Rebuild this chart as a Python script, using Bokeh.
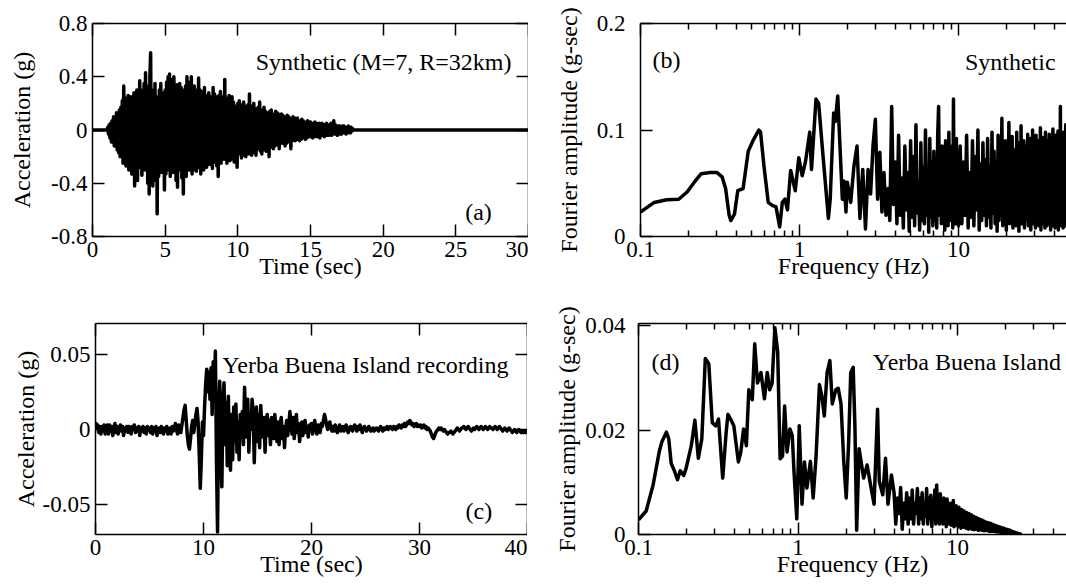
import numpy as np
from bokeh.plotting import figure
from bokeh.layouts import row, column
from bokeh.models import LinearAxis, LogAxis, FixedTicker, Label, Range1d
from bokeh.embed import file_html
from bokeh.resources import INLINE

FONT = "Liberation Serif"

# ---------------- (a) synthetic acceleration (g) ----------------
a_lead_t = [0.0]
a_lead_v = [0.0]
a_t0 = 1.0
a_dt = 0.05
a_vals = [
    0.00, 0.02, -0.03, 0.04, -0.06, 0.05, -0.09, 0.07, -0.05, 0.10, -0.12, 0.08, -0.10, 0.13, -0.15, 0.12, -0.17, 0.15, -0.20, 0.17,
    -0.14, 0.22, -0.25, 0.33, -0.18, 0.20, -0.27, 0.24, -0.15, 0.26, -0.30, 0.18, -0.22, 0.25, -0.33, 0.21, -0.26, 0.28, -0.42, 0.22,
    -0.25, 0.30, -0.38, 0.24, -0.28, 0.37, -0.22, 0.27, -0.34, 0.30, -0.26, 0.35, -0.30, 0.43, -0.28, 0.33, -0.40, 0.31, -0.48, 0.40,
    0.58, -0.35, 0.30, -0.42, 0.28, -0.30, 0.35, -0.38, 0.25, -0.63, 0.22, -0.35, 0.30, -0.28, 0.35, -0.32, 0.26, -0.30, 0.28, -0.45,
    0.30, -0.33, 0.36, -0.28, 0.40, -0.30, 0.42, -0.35, 0.33, -0.27, 0.38, -0.32, 0.40, -0.25, 0.30, -0.38, 0.34, -0.43, 0.28, -0.30,
    0.35, -0.30, 0.32, -0.36, 0.25, -0.48, 0.30, -0.28, 0.33, -0.35, 0.40, -0.25, 0.31, -0.30, 0.36, -0.27, 0.40, -0.33, 0.28, -0.30,
    0.33, -0.27, 0.30, -0.31, 0.26, -0.25, 0.39, -0.28, 0.30, -0.33, 0.27, -0.24, 0.29, -0.30, 0.32, -0.22, 0.26, -0.28, 0.24, -0.26,
    0.28, -0.23, 0.25, -0.26, 0.22, -0.29, 0.32, -0.24, 0.27, -0.21, 0.25, -0.27, 0.23, -0.35, 0.26, -0.22, 0.29, -0.25, 0.24, -0.20,
    0.25, -0.22, 0.38, -0.20, 0.22, -0.25, 0.24, -0.18, 0.26, -0.23, 0.20, -0.22, 0.25, -0.19, 0.21, -0.24, 0.18, -0.20, 0.17, -0.28,
    0.20, -0.18, 0.22, -0.17, 0.19, -0.21, 0.16, -0.19, 0.21, -0.15, 0.18, -0.20, 0.17, -0.16, 0.19, -0.18, 0.27, -0.17, 0.15, -0.19,
    0.18, -0.15, 0.20, -0.17, 0.14, -0.19, 0.16, -0.14, 0.17, -0.13, 0.21, -0.16, 0.15, -0.18, 0.13, -0.15, 0.17, -0.12, 0.14, -0.16,
    0.13, -0.15, 0.12, -0.20, 0.14, -0.11, 0.15, -0.13, 0.12, -0.14, 0.10, -0.12, 0.14, -0.11, 0.13, -0.10, 0.12, -0.14, 0.11, -0.10,
    0.12, -0.10, 0.11, -0.09, 0.10, -0.12, 0.09, -0.10, 0.11, -0.08, 0.10, -0.09, 0.08, -0.14, 0.09, -0.08, 0.10, -0.07, 0.09, -0.08,
    0.08, -0.07, 0.09, -0.06, 0.07, -0.08, 0.06, -0.07, 0.08, -0.06, 0.07, -0.05, 0.06, -0.07, 0.05, -0.06, 0.07, -0.05, 0.06, -0.05,
    0.06, -0.05, 0.05, -0.06, 0.04, -0.05, 0.06, -0.04, 0.05, -0.05, 0.04, -0.04, 0.05, -0.06, 0.04, -0.03, 0.05, -0.04, 0.04, -0.05,
    0.04, -0.03, 0.05, -0.04, 0.03, -0.04, 0.04, -0.03, 0.05, -0.04, 0.03, -0.03, 0.07, -0.03, 0.04, -0.03, 0.03, -0.04, 0.03, -0.02,
    0.03, -0.03, 0.02, -0.03, 0.03, -0.02, 0.03, -0.02, 0.02, -0.03, 0.02, -0.02, 0.03, -0.02, 0.02, -0.02, 0.02, -0.01, 0.01, 0.00,
]
a_tail_t = [18.0, 30.0]
a_tail_v = [0.0, 0.0]

# ---------------- (c) Yerba Buena Island acceleration (g) ----------------
c_t0 = 0.0
c_dt = 0.1
c_vals = [
    0.005, 0.001, 0.003, -0.002, 0.002, -0.003, 0.002, -0.001, 0.003, -0.003,
    0.001, 0.003, -0.003, 0.003, -0.001, 0.002, -0.004, 0.001, 0.004, -0.002,
    0.002, -0.003, 0.001, 0.003, -0.001, 0.002, -0.004, 0.001, -0.001, 0.002,
    -0.002, 0.002, 0.001, -0.003, 0.002, 0.000, 0.003, -0.002, 0.001, -0.001,
    0.002, -0.004, 0.001, -0.001, 0.002, -0.002, 0.001, -0.003, 0.002, 0.000,
    0.001, -0.002, 0.002, -0.003, 0.001, -0.001, 0.002, -0.004, 0.000, 0.001,
    -0.002, 0.002, 0.000, -0.003, 0.001, -0.001, 0.002, -0.003, 0.000, 0.001,
    -0.003, 0.002, -0.001, 0.001, 0.004, 0.000, -0.003, 0.003, 0.001, -0.002,
    0.003, 0.008, 0.013, 0.016, 0.006, -0.004, -0.010, -0.013, -0.006, 0.002,
    0.006, -0.002, 0.004, 0.010, 0.014, 0.005, -0.015, -0.039, -0.020, 0.005,
    -0.004, 0.015, 0.030, 0.040, 0.025, 0.038, 0.020, 0.041, 0.010, 0.045,
    0.030, 0.052, -0.020, -0.068, 0.010, 0.032, -0.015, -0.038, 0.020, 0.031,
    -0.010, 0.018, -0.024, 0.022, -0.012, -0.027, 0.010, -0.020, 0.015, -0.008,
    0.017, -0.015, 0.005, -0.020, 0.010, -0.005, 0.012, -0.010, 0.028, 0.010,
    -0.005, 0.020, -0.015, 0.008, 0.000, 0.020, 0.012, -0.022, 0.005, 0.015,
    -0.008, 0.010, -0.012, 0.016, 0.002, -0.005, 0.008, -0.015, 0.005, 0.010,
    -0.004, 0.006, -0.010, 0.008, 0.003, -0.006, 0.010, 0.002, -0.008, 0.005,
    -0.010, 0.004, 0.008, -0.006, 0.002, -0.012, 0.000, 0.006, -0.004, 0.003,
    0.012, 0.005, -0.003, 0.008, -0.006, 0.002, 0.010, -0.002, 0.004, -0.008,
    0.000, 0.005, -0.004, 0.003, 0.006, -0.002, 0.002, -0.005, 0.003, 0.001,
    0.004, -0.003, 0.002, 0.006, 0.000, -0.003, 0.003, 0.001, -0.002, 0.004,
    0.002, 0.006, 0.010, 0.007, 0.003, 0.000, 0.002, 0.005, 0.001, -0.001,
    0.002, -0.001, 0.003, 0.000, -0.002, 0.001, 0.003, -0.001, 0.001, 0.002,
    -0.001, 0.001, 0.003, 0.000, -0.002, 0.001, 0.002, 0.000, -0.001, 0.002,
    0.003, 0.001, -0.001, 0.002, 0.000, 0.003, 0.001, -0.002, 0.000, 0.002,
    0.001, -0.001, 0.000, 0.002, 0.001, -0.001, 0.000, 0.001, -0.001, 0.000,
    0.001, 0.000, -0.001, 0.001, 0.002, 0.000, -0.001, 0.001, 0.000, 0.001,
    0.002, 0.000, 0.001, 0.002, 0.001, 0.000, 0.002, 0.001, 0.000, 0.002,
    0.001, 0.003, 0.002, 0.001, 0.003, 0.002, 0.004, 0.002, 0.003, 0.005,
    0.004, 0.006, 0.005, 0.003, 0.004, 0.002, 0.003, 0.004, 0.002, 0.003,
    0.002, 0.003, 0.001, 0.002, 0.003, 0.001, 0.002, 0.000, 0.001, 0.000,
    -0.001, -0.003, -0.005, -0.006, -0.004, -0.002, -0.001, 0.000, 0.001, 0.000,
    0.001, 0.000, -0.001, 0.000, -0.001, -0.002, -0.003, -0.002, -0.002, -0.001,
    -0.002, -0.003, -0.002, -0.001, 0.000, 0.001, 0.000, -0.001, 0.000, 0.001,
    0.001, 0.002, 0.001, 0.000, 0.001, 0.002, 0.001, 0.000, -0.001, 0.000,
    0.001, 0.000, 0.001, 0.002, 0.001, 0.000, 0.001, 0.002, 0.001, 0.000,
    0.001, 0.002, 0.001, 0.000, 0.001, 0.002, 0.001, 0.001, 0.000, 0.001,
    0.002, 0.001, 0.000, 0.001, 0.002, 0.001, 0.000, -0.001, 0.000, 0.001,
    0.000, -0.001, 0.000, 0.001, 0.000, -0.001, -0.002, -0.001, 0.000, -0.001,
    -0.002, -0.001, 0.000, -0.001, -0.002, -0.001, -0.002, -0.001, -0.002, -0.001,
    -0.001,
]

# ---------------- (b) synthetic Fourier amplitude (g-sec) ----------------
b_f_low = [0.100, 0.122, 0.146, 0.174, 0.197, 0.218, 0.241, 0.274, 0.303, 0.326,
           0.343, 0.361, 0.370, 0.390, 0.409, 0.442, 0.476, 0.514, 0.555, 0.569,
           0.598, 0.636, 0.677, 0.711, 0.751, 0.780, 0.810, 0.840, 0.880, 0.940,
           0.990, 1.040, 1.090, 1.160, 1.190, 1.270, 1.320, 1.400, 1.520, 1.560,
           1.640, 1.680, 1.740, 1.790, 1.860, 1.910, 1.960]
b_a_low = [0.023, 0.032, 0.0345, 0.035, 0.042, 0.051, 0.059, 0.060, 0.060, 0.056,
           0.045, 0.020, 0.015, 0.021, 0.043, 0.045, 0.080, 0.091, 0.100, 0.098,
           0.066, 0.032, 0.029, 0.028, 0.009, 0.032, 0.035, 0.025, 0.062, 0.043,
           0.074, 0.057, 0.070, 0.098, 0.063, 0.129, 0.125, 0.079, 0.017, 0.035,
           0.116, 0.108, 0.132, 0.091, 0.035, 0.052, 0.023]
b_mid_f0 = 2.0
b_mid_df = 0.1
b_mid = [
    0.051, 0.032, 0.066, 0.085, 0.017, 0.063, 0.007, 0.063, 0.040, 0.085,
    0.110, 0.035, 0.079, 0.023, 0.060, 0.020, 0.045, 0.015, 0.122, 0.030,
    0.070, 0.012, 0.095, 0.020, 0.055, 0.008, 0.085, 0.025, 0.060, 0.005,
    0.090, 0.018, 0.075, 0.010, 0.105, 0.022, 0.050, 0.006, 0.088, 0.015,
    0.065, 0.012, 0.100, 0.020, 0.058, 0.004, 0.092, 0.018, 0.070, 0.010,
    0.080, 0.015, 0.060, 0.008, 0.095, 0.122, 0.020, 0.070, 0.012, 0.085,
    0.018, 0.075, 0.006, 0.090, 0.022, 0.060, 0.010, 0.098, 0.015, 0.070,
    0.020, 0.085, 0.008, 0.129, 0.015, 0.078, 0.012, 0.092, 0.020, 0.065,
    0.010,
]
b_high_f0 = 10.25
b_high_df = 0.25
b_high = [
    0.085, 0.012, 0.070, 0.020, 0.095, 0.008, 0.060, 0.018, 0.090, 0.010, 0.075, 0.025, 0.100, 0.006, 0.068, 0.015, 0.088, 0.020, 0.072,
    0.010, 0.092, 0.018, 0.065, 0.008, 0.098, 0.022, 0.080, 0.012, 0.070, 0.005, 0.095, 0.015, 0.085, 0.020, 0.111, 0.010, 0.078, 0.018,
    0.090, 0.006, 0.080, 0.020, 0.107, 0.012, 0.075, 0.018, 0.094, 0.008, 0.082, 0.022, 0.065, 0.010, 0.098, 0.015, 0.088, 0.005, 0.076,
    0.018, 0.104, 0.012, 0.070, 0.020, 0.090, 0.008, 0.085, 0.015, 0.060, 0.022, 0.096, 0.010, 0.078, 0.018, 0.092, 0.006, 0.083, 0.016,
    0.100, 0.012, 0.072, 0.020, 0.088, 0.008, 0.095, 0.015, 0.068, 0.022, 0.090, 0.010, 0.080, 0.018, 0.102, 0.006, 0.075, 0.014, 0.093,
    0.012, 0.085, 0.020, 0.070, 0.008, 0.098, 0.016, 0.082, 0.010, 0.090, 0.022, 0.066, 0.012, 0.096, 0.018, 0.086, 0.006, 0.092, 0.015,
    0.078, 0.020, 0.101, 0.010, 0.084, 0.016, 0.070, 0.008, 0.095, 0.018, 0.088, 0.012, 0.075, 0.020, 0.099, 0.006, 0.082, 0.016, 0.090,
    0.010, 0.122, 0.018, 0.076, 0.012, 0.094, 0.020, 0.085, 0.008, 0.098, 0.015, 0.072, 0.022, 0.090, 0.010, 0.105, 0.016, 0.080, 0.012,
]

# ---------------- (d) Yerba Buena Island Fourier amplitude (g-sec) ----------------
d_f_low = [0.1000, 0.1117, 0.1235, 0.1352, 0.1400, 0.1495, 0.1548, 0.1603, 0.1669, 0.1755,
           0.1827, 0.1921, 0.1990, 0.2146, 0.2256, 0.2372, 0.2494, 0.2623, 0.2758, 0.2900,
           0.3049, 0.3174, 0.3372, 0.3545, 0.3636, 0.3823, 0.3960, 0.4227, 0.4378, 0.4557,
           0.4746, 0.4915, 0.5168, 0.5353, 0.5572, 0.5858, 0.6160, 0.6412, 0.6642, 0.6879,
           0.7161, 0.7455, 0.7722, 0.7998, 0.8241, 0.8536, 0.8887, 0.9204, 0.9438, 0.9826,
           1.0177, 1.0595, 1.0974, 1.1365, 1.1953, 1.2444, 1.2955, 1.3621, 1.4109, 1.4614,
           1.5212, 1.5835, 1.6402, 1.7246, 1.7864, 1.8598, 1.9360, 2.0052, 2.0770, 2.1404,
           2.2171, 2.2735, 2.3314, 2.4149, 2.4888, 2.5779, 2.7106, 2.8502, 2.9973, 3.1512,
           3.2314, 3.3969, 3.5360, 3.6628, 3.8514]
d_a_low = [0.0028, 0.0045, 0.0095, 0.0160, 0.0177, 0.0196, 0.0183, 0.0136, 0.0124, 0.0105,
           0.0122, 0.0113, 0.0127, 0.0171, 0.0219, 0.0146, 0.0183, 0.0337, 0.0327, 0.0214,
           0.0208, 0.0221, 0.0108, 0.0196, 0.0230, 0.0218, 0.0208, 0.0139, 0.0158, 0.0202,
           0.0170, 0.0277, 0.0258, 0.0365, 0.0290, 0.0310, 0.0260, 0.0310, 0.0277, 0.0290,
           0.0396, 0.0350, 0.0145, 0.0150, 0.0246, 0.0158, 0.0202, 0.0190, 0.0120, 0.0030,
           0.0208, 0.0058, 0.0139, 0.0089, 0.0140, 0.0070, 0.0146, 0.0287, 0.0265, 0.0227,
           0.0310, 0.0333, 0.0250, 0.0277, 0.0280, 0.0250, 0.0139, 0.0070, 0.0177, 0.0310,
           0.0320, 0.0208, 0.0008, 0.0164, 0.0139, 0.0108, 0.0133, 0.0095, 0.0058, 0.0240,
           0.0102, 0.0076, 0.0146, 0.0058, 0.0114]
d_high_f0 = 4.0
d_high_df = 0.1
d_high = [
    0.0080, 0.0020, 0.0070, 0.0040, 0.0090, 0.0010, 0.0060, 0.0030, 0.0080, 0.0020,
    0.0070, 0.0030, 0.0085, 0.0020, 0.0060, 0.0040, 0.0088, 0.0020, 0.0070, 0.0030,
    0.0080, 0.0020, 0.0060, 0.0035, 0.0088, 0.0020, 0.0070, 0.0030, 0.0075, 0.0015,
    0.0060, 0.0030, 0.0085, 0.0020, 0.0095, 0.0030, 0.0065, 0.0020, 0.0078, 0.0025,
    0.0060, 0.0020, 0.0070, 0.0030, 0.0055, 0.0015, 0.0068, 0.0025, 0.0050, 0.0020,
    0.0060, 0.0018, 0.0052, 0.0025, 0.0065, 0.0015, 0.0048, 0.0020, 0.0055, 0.0018,
    0.0045, 0.0015, 0.0052, 0.0020, 0.0042, 0.0012, 0.0048, 0.0018, 0.0040, 0.0014,
    0.0045, 0.0016, 0.0038, 0.0012, 0.0042, 0.0015, 0.0036, 0.0010, 0.0040, 0.0014,
    0.0034, 0.0012, 0.0038, 0.0010, 0.0032, 0.0013, 0.0035, 0.0009, 0.0030, 0.0012,
    0.0033, 0.0010, 0.0028, 0.0012, 0.0031, 0.0008, 0.0027, 0.0010, 0.0029, 0.0009,
    0.0026, 0.0009, 0.0028, 0.0008, 0.0024, 0.0010, 0.0026, 0.0007, 0.0023, 0.0009,
    0.0024, 0.0008, 0.0021, 0.0009, 0.0023, 0.0007, 0.0020, 0.0008, 0.0022, 0.0006,
    0.0019, 0.0007, 0.0021, 0.0006, 0.0018, 0.0008, 0.0019, 0.0006, 0.0017, 0.0007,
    0.0018, 0.0006, 0.0016, 0.0007, 0.0017, 0.0005, 0.0015, 0.0006, 0.0016, 0.0005,
    0.0014, 0.0006, 0.0015, 0.0005, 0.0013, 0.0006, 0.0014, 0.0004, 0.0012, 0.0005,
    0.0013, 0.0004, 0.0012, 0.0005, 0.0011, 0.0004, 0.0012, 0.0003, 0.0010, 0.0004,
    0.0010, 0.0003, 0.0009, 0.0004, 0.0010, 0.0003, 0.0008, 0.0003, 0.0009, 0.0002,
    0.0008, 0.0003, 0.0007, 0.0002, 0.0008, 0.0002, 0.0006, 0.0003, 0.0006, 0.0002,
    0.0006, 0.0002, 0.0005, 0.0002, 0.0005, 0.0001, 0.0004, 0.0002, 0.0004, 0.0001,
    0.0004, 0.0001, 0.0003, 0.0001, 0.0003, 0.0001, 0.0002, 0.0001, 0.0002, 0.0001,
    0.0002, 0.0001, 0.0001, 0.0001, 0.0001, 0.0000, 0.0001, 0.0000, 0.0001, 0.0000,
    0.0000,
]

# ---------------- ticks ----------------
a_xticks = [0, 5, 10, 15, 20, 25, 30]
a_xlabels = ["0", "5", "10", "15", "20", "25", "30"]
a_yticks = [-0.8, -0.4, 0, 0.4, 0.8]
a_ylabels = ["-0.8", "-0.4", "0", "0.4", "0.8"]
c_xticks = [0, 10, 20, 30, 40]
c_xlabels = ["0", "10", "20", "30", "40"]
c_yticks = [-0.05, 0, 0.05]
c_ylabels = ["-0.05", "0", "0.05"]
f_ticks = [0.1, 1, 10]
f_labels = ["0.1", "1", "10"]
f_minor = [0.2, 0.3, 0.4, 0.5, 0.6, 0.7, 0.8, 0.9, 2, 3, 4, 5, 6, 7, 8, 9, 20, 30, 40, 50]
b_yticks = [0, 0.1, 0.2]
b_ylabels = ["0", "0.1", "0.2"]
d_yticks = [0, 0.02, 0.04]
d_ylabels = ["0", "0.02", "0.04"]


def grid(start, step, n):
    return [round(start + i * step, 6) for i in range(n)]


def style(ax, ticks, labels, minor=(), show=True, standoff=5, lab_standoff=5):
    ax.ticker = FixedTicker(ticks=list(ticks), minor_ticks=list(minor))
    ax.axis_line_color = "black"
    ax.axis_line_width = 1.5
    ax.major_tick_line_color = "black"
    ax.major_tick_line_width = 1.5
    ax.major_tick_in = 12
    ax.major_tick_out = 0
    ax.minor_tick_line_color = "black"
    ax.minor_tick_line_width = 1.5
    ax.minor_tick_in = 6
    ax.minor_tick_out = 0
    if show:
        ax.major_label_overrides = {t: l for t, l in zip(ticks, labels)}
        ax.major_label_text_font = FONT
        ax.major_label_text_font_size = "23px"
        ax.major_label_text_color = "black"
        ax.major_label_standoff = standoff
    else:
        ax.major_label_text_font_size = "0px"
        ax.major_label_text_alpha = 0
        ax.major_label_standoff = 0
    ax.axis_label_text_font = FONT
    ax.axis_label_text_font_size = "24px"
    ax.axis_label_text_font_style = "normal"
    ax.axis_label_text_color = "black"
    ax.axis_label_standoff = lab_standoff


def make_fig(w, h, left, right, top, bottom, xr, yr, log=False):
    p = figure(width=w, height=h, x_range=Range1d(*xr), y_range=Range1d(*yr),
               x_axis_type="log" if log else "linear",
               output_backend="svg", toolbar_location=None,
               min_border_left=left, min_border_right=right,
               min_border_top=top, min_border_bottom=bottom)
    p.outline_line_color = None
    p.xgrid.visible = False
    p.ygrid.visible = False
    p.background_fill_color = "white"
    p.border_fill_color = "white"
    return p


def add_label(p, x, y, text, align):
    p.add_layout(Label(x=x, y=y, text=text, text_font=FONT, text_font_size="24px",
                       text_color="black", text_align=align, text_baseline="alphabetic"))


LW = 3.5

# ---- panel (a)
pa = make_fig(528, 292, 92, 0, 20, 56, (0, 30), (-0.8, 0.8))
ta = a_lead_t + grid(a_t0, a_dt, len(a_vals)) + a_tail_t
va = a_lead_v + a_vals + a_tail_v
pa.line(ta, va, line_color="black", line_width=LW, line_join="round")
style(pa.xaxis[0], a_xticks, a_xlabels, lab_standoff=-7)
style(pa.yaxis[0], a_yticks, a_ylabels, lab_standoff=13)
pa.xaxis[0].axis_label = "Time (sec)"
pa.yaxis[0].axis_label = "Acceleration (g)"
ax_top = LinearAxis()
style(ax_top, a_xticks, a_xlabels, show=False)
pa.add_layout(ax_top, "above")
ax_right = LinearAxis()
style(ax_right, a_yticks, a_ylabels, show=False)
pa.add_layout(ax_right, "right")
add_label(pa, 28.83, 0.511, "Synthetic (M=7, R=32km)", "right")
add_label(pa, 26.56, -0.615, "(a)", "center")

# ---- panel (b)
pb = make_fig(538, 292, 112, 0, 23, 54, (0.1, 47.8), (0, 0.2), log=True)
fb = b_f_low + grid(b_mid_f0, b_mid_df, len(b_mid)) + grid(b_high_f0, b_high_df, len(b_high))
ab = b_a_low + b_mid + b_high
pb.line(fb, ab, line_color="black", line_width=LW, line_join="round")
style(pb.xaxis[0], f_ticks, f_labels, f_minor, lab_standoff=-7)
style(pb.yaxis[0], b_yticks, b_ylabels, standoff=15, lab_standoff=12)
pb.xaxis[0].axis_label = "Frequency (Hz)"
pb.yaxis[0].axis_label = "Fourier amplitude (g-sec)"
bx_top = LogAxis()
style(bx_top, f_ticks, f_labels, f_minor, show=False)
pb.add_layout(bx_top, "above")
add_label(pb, 0.119, 0.1656, "(b)", "left")
add_label(pb, 40.8, 0.164, "Synthetic", "right")

# ---- panel (c)
pc = make_fig(527, 296, 95, 0, 28, 54, (0, 40), (-0.0696, 0.0703))
tc = grid(c_t0, c_dt, len(c_vals))
pc.line(tc, c_vals, line_color="black", line_width=LW, line_join="round")
style(pc.xaxis[0], c_xticks, c_xlabels, lab_standoff=-7)
style(pc.yaxis[0], c_yticks, c_ylabels, lab_standoff=1)
pc.xaxis[0].axis_label = "Time (sec)"
pc.yaxis[0].axis_label = "Acceleration (g)"
cx_top = LinearAxis()
style(cx_top, c_xticks, c_xlabels, show=False)
pc.add_layout(cx_top, "above")
cy_right = LinearAxis()
style(cy_right, c_yticks, c_ylabels, show=False)
pc.add_layout(cy_right, "right")
add_label(pc, 38.24, 0.0428, "Yerba Buena Island recording", "right")
add_label(pc, 35.5, -0.0539, "(c)", "center")

# ---- panel (d)
pd_ = make_fig(539, 296, 111, 0, 31, 51, (0.1, 48.2), (0, 0.0404), log=True)
fd = d_f_low + grid(d_high_f0, d_high_df, len(d_high))
ad = d_a_low + d_high
pd_.line(fd, ad, line_color="black", line_width=LW, line_join="round")
style(pd_.xaxis[0], f_ticks, f_labels, f_minor, lab_standoff=-7)
style(pd_.yaxis[0], d_yticks, d_ylabels, standoff=13, lab_standoff=2)
pd_.xaxis[0].axis_label = "Frequency (Hz)"
pd_.yaxis[0].axis_label = "Fourier amplitude (g-sec)"
dx_top = LogAxis()
style(dx_top, f_ticks, f_labels, f_minor, show=False)
pd_.add_layout(dx_top, "above")
add_label(pd_, 0.1207, 0.0330, "(d)", "left")
add_label(pd_, 44.5, 0.0330, "Yerba Buena Island", "right")

layout = column(row(pa, pb), row(pc, pd_))
open("out.html", "w").write(file_html(layout, INLINE))
